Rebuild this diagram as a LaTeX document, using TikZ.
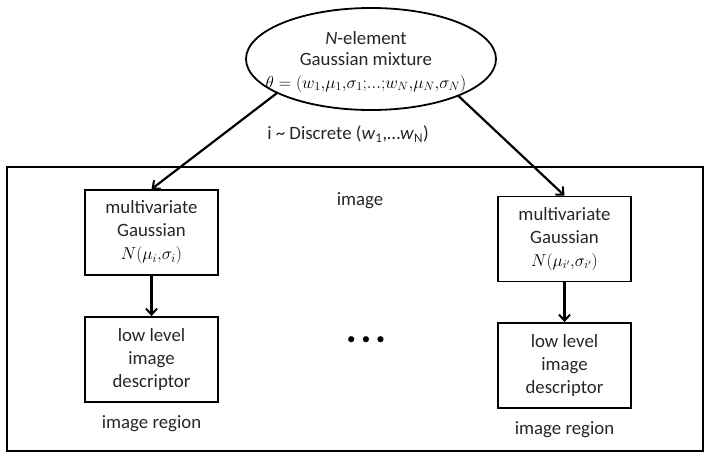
\documentclass[tikz,border=0pt]{standalone}
\usepackage{fontspec}
\setmainfont{Carlito}
\newfontfamily\symfont{DejaVu Sans}
\usetikzlibrary{shapes.geometric,arrows.meta}
\newcommand{\mfs}[1]{{\fontsize{16.5}{20}\selectfont\color{black}$#1$}}
\begin{document}
\begin{tikzpicture}[x=1pt,y=-1pt,
  txt/.style={font=\fontsize{18.8}{23}\selectfont, text=black!85, align=center},
  boxnode/.style={txt, draw=black, line width=1.8pt, minimum width=133pt, minimum height=85pt, inner sep=0pt},
  arr/.style={line width=2.2pt, -{Straight Barb[length=6pt,width=11pt,line width=2pt]}}]
\useasboundingbox (0,0) rectangle (704,453);
\node[draw, rectangle, line width=1.8pt, minimum width=696pt, minimum height=284pt] (frame) at (355,309) {};
\node[ellipse, draw, line width=1.8pt, minimum width=250pt, minimum height=102pt, inner sep=0pt] (mix) at (371,59) {};
\node[txt, font=\fontsize{18.8}{21.5}\selectfont] (mixt) at (366,62)
  {\textit{N}-element\\Gaussian mixture\\[1pt]\mfs{\theta=(w_1{,}\mu_1{,}\sigma_1{;}{...}{;}w_N{,}\mu_N{,}\sigma_N)}};
\node[txt] (disc) at (348,134) {i \textasciitilde{} Discrete (\textit{w}\textsubscript{1},…\textit{w}\textsubscript{N})};
\node[txt] (img) at (360,201) {image};
\node[boxnode] (ul) at (151.5,232.5) {multivariate\\Gaussian\\\mfs{N(\mu_i{,}\sigma_i)}};
\node[boxnode] (ll) at (151.5,359.5) {low level\\image\\descriptor};
\node[boxnode] (ur) at (564.5,239) {multivariate\\Gaussian\\\mfs{N(\mu_{i'}{,}\sigma_{i'})}};
\node[boxnode] (lr) at (564.5,365.5) {low level\\image\\descriptor};
\node[txt] (rl) at (151.5,424) {image region};
\node[txt] (rr) at (564.5,430) {image region};
\node[font=\symfont\fontsize{21}{21}\selectfont] (dots) at (366,342) {•\kern2.2pt•\kern2.2pt•};
\draw[arr] (mix.200) -- (ul.north);
\draw[arr] (mix.-23) -- (ur.north);
\draw[arr] (ul.south) -- (ll.north);
\draw[arr] (ur.south) -- (lr.north);
\end{tikzpicture}
\end{document}
